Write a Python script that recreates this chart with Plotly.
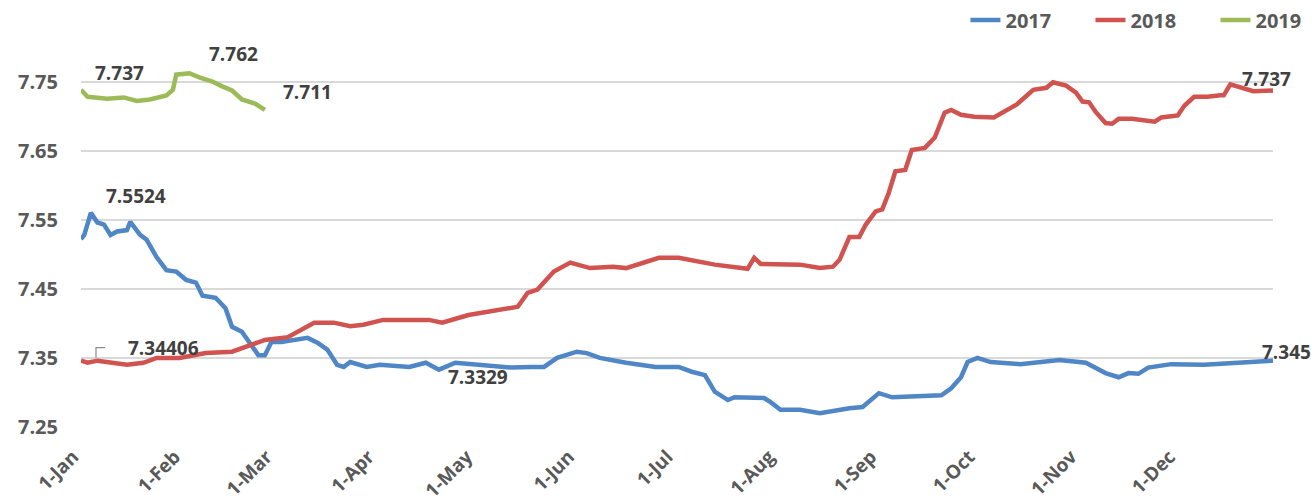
import pandas as pd
import plotly.graph_objects as go

# ---- data ----
# day offsets from 1-Jan and exchange-rate values
days_2017 = [0, 1, 3, 5, 7, 9, 11, 14, 15, 18, 20, 23, 26, 29, 32, 35, 37, 41, 44, 46,
             49, 52, 54, 56, 58, 61, 66, 69, 72, 75, 78, 80, 82, 87, 91, 100, 105, 109, 114, 121,
             124, 131, 137, 141, 145, 151, 154, 158, 166, 175, 182, 186, 190, 193, 197, 199, 208, 210, 213, 219,
             225, 231, 234, 238, 243, 247, 262, 265, 268, 270, 273, 277, 286, 298, 306, 312, 316, 319, 322, 325,
             332, 342, 352, 363]
vals_2017 = [7.522, 7.528, 7.560, 7.546, 7.543, 7.528, 7.533, 7.535, 7.547, 7.528,
             7.521, 7.496, 7.477, 7.475, 7.463, 7.459, 7.440, 7.437, 7.422, 7.395,
             7.388, 7.366, 7.354, 7.354, 7.373, 7.373, 7.376, 7.379, 7.372, 7.362,
             7.340, 7.337, 7.344, 7.337, 7.340, 7.337, 7.343, 7.333, 7.343, 7.340,
             7.340, 7.336, 7.337, 7.337, 7.350, 7.359, 7.357, 7.350, 7.343, 7.337,
             7.337, 7.330, 7.325, 7.301, 7.289, 7.293, 7.292, 7.286, 7.275, 7.275,
             7.270, 7.275, 7.277, 7.279, 7.299, 7.293, 7.296, 7.306, 7.322, 7.344,
             7.350, 7.344, 7.341, 7.347, 7.343, 7.328, 7.322, 7.328, 7.327, 7.336,
             7.341, 7.340, 7.343, 7.346]

days_2018 = [0, 2, 5, 14, 19, 23, 30, 38, 46, 50, 56, 63, 67, 71, 77, 82, 86, 92, 106, 110,
             118, 127, 133, 136, 139, 144, 147, 149, 155, 162, 166, 176, 182, 193, 203, 205, 207, 219, 225, 229,
             231, 234, 237, 239, 242, 244, 246, 248, 251, 253, 257, 260, 263, 265, 268, 272, 278, 281, 285, 290,
             294, 296, 300, 303, 305, 307, 309, 312, 314, 316, 320, 327, 329, 334, 336, 339, 343, 347, 348, 350,
             354, 357, 363]
vals_2018 = [7.346, 7.343, 7.346, 7.340, 7.343, 7.350, 7.350, 7.357, 7.359, 7.366,
             7.376, 7.380, 7.391, 7.401, 7.401, 7.396, 7.398, 7.405, 7.405, 7.401,
             7.412, 7.420, 7.424, 7.444, 7.449, 7.475, 7.483, 7.488, 7.480, 7.482,
             7.480, 7.495, 7.495, 7.485, 7.479, 7.495, 7.486, 7.485, 7.480, 7.482,
             7.492, 7.525, 7.525, 7.543, 7.562, 7.565, 7.589, 7.620, 7.622, 7.651,
             7.654, 7.669, 7.705, 7.709, 7.702, 7.699, 7.698, 7.706, 7.717, 7.738,
             7.741, 7.749, 7.744, 7.734, 7.721, 7.720, 7.706, 7.690, 7.689, 7.696,
             7.696, 7.692, 7.698, 7.701, 7.715, 7.728, 7.728, 7.730, 7.730, 7.746,
             7.740, 7.736, 7.737]

days_2019 = [0, 2, 8, 13, 17, 21, 26, 28, 29, 33, 36, 40, 43, 46, 49, 53, 56]
vals_2019 = [7.738, 7.728, 7.725, 7.727, 7.722, 7.724, 7.730, 7.738, 7.760, 7.762,
             7.756, 7.750, 7.743, 7.737, 7.724, 7.718, 7.709]

series_names = ["2017", "2018", "2019"]
series_colors = ["#4f86c6", "#d1534f", "#9bbb59"]

tick_labels = ["1-Jan", "1-Feb", "1-Mar", "1-Apr", "1-May", "1-Jun",
               "1-Jul", "1-Aug", "1-Sep", "1-Oct", "1-Nov", "1-Dec"]
y_ticks = [7.25, 7.35, 7.45, 7.55, 7.65, 7.75]

# data labels: (series index, point index, text, xshift, yshift)
data_labels = [
    (2, 0, "7.737", 38, 17),
    (2, 9, "7.762", 44, 19),
    (2, 16, "7.711", 43, 18),
    (0, 2, "7.5524", 45, 17),
    (1, 0, "7.34406", 82, 13),
    (0, 39, "7.3329", 0, -12),
    (0, 83, "7.345", 13, 9),
    (1, 82, "7.737", -7, 12),
]

# ---- figure ----
base = pd.Timestamp("2018-01-01")
all_days = [days_2017, days_2018, days_2019]
all_vals = [vals_2017, vals_2018, vals_2019]
all_x = [base + pd.to_timedelta(d, unit="D") for d in all_days]

FONT = "Open Sans"
fig = go.Figure()
for name, color, xs, ys in zip(series_names, series_colors, all_x, all_vals):
    fig.add_trace(go.Scatter(x=xs, y=ys, mode="lines", name=name,
                             line=dict(color=color, width=4.5)))

for si, pi, text, dx, dy in data_labels:
    fig.add_annotation(x=all_x[si][pi], y=all_vals[si][pi], text=text,
                       showarrow=False, xshift=dx, yshift=dy,
                       font=dict(family=FONT, size=19, color="#404040", weight="bold"))

# leader line for the 7.34406 label
fig.add_shape(type="path", xref="x", yref="y",
              xsizemode="pixel", ysizemode="pixel",
              xanchor=all_x[1][0], yanchor=all_vals[1][0],
              path="M 15,3 L 15,13 L 24,13",
              line=dict(color="#8c8c8c", width=1.2))

month_starts = pd.date_range(base, periods=12, freq="MS")
fig.update_layout(
    width=1316, height=503,
    margin=dict(l=81, r=43, t=47, b=76, autoexpand=False),
    paper_bgcolor="white", plot_bgcolor="white",
    font=dict(family=FONT, color="#595959"),
    hovermode=False,
    showlegend=True,
    legend=dict(orientation="h", x=0.742, xanchor="left", y=1.071, yanchor="middle",
                font=dict(family=FONT, size=20, color="#595959", weight="bold"),
                entrywidth=80, itemwidth=30, tracegroupgap=0, bgcolor="rgba(0,0,0,0)"),
    xaxis=dict(range=[base, base + pd.Timedelta(days=363)],
               tickvals=month_starts, ticktext=tick_labels, tickangle=-45,
               showgrid=False, zeroline=False, showline=False, ticks="",
               ticklabelstandoff=14, ticklabelshift=-8, automargin=False,
               tickfont=dict(family=FONT, size=19, color="#595959", weight="bold")),
    yaxis=dict(range=[7.25, 7.8], tickvals=y_ticks,
               ticktext=[f"{v:.2f}" for v in y_ticks],
               showgrid=True, gridcolor="#d9d9d9", gridwidth=1.5,
               zeroline=False, showline=False, ticks="", automargin=False,
               ticklabelstandoff=22,
               tickfont=dict(family=FONT, size=20, color="#595959", weight="bold")),
)

fig.write_html("out.html",
               config={"displayModeBar": False},
               post_script="document.body.style.margin='0';"
                           "document.documentElement.style.overflow='hidden';")
